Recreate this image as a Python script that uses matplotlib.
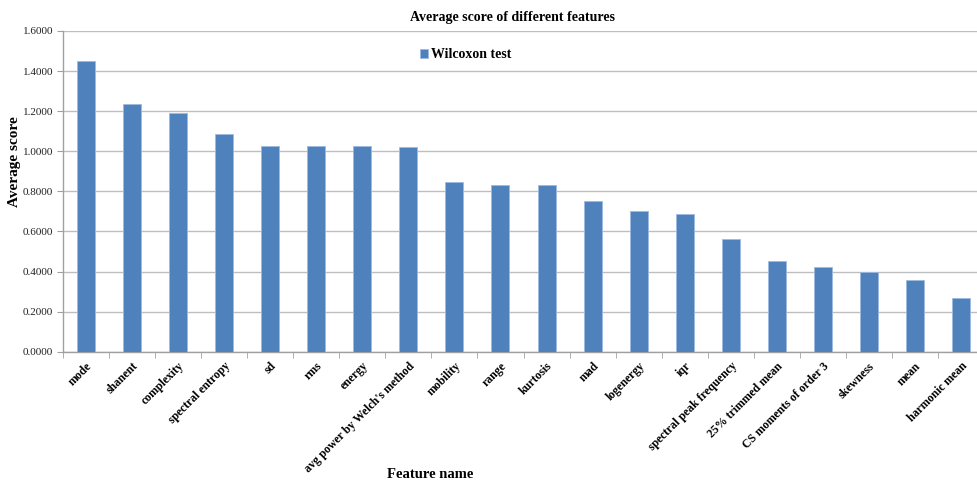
import matplotlib.pyplot as plt
import numpy as np

features = ["mode", "shanent", "complexity", "spectral entropy", "sd", "rms",
            "energy", "avg power by Welch's method", "mobility", "range",
            "kurtosis", "mad", "logenergy", "iqr", "spectral peak frequency",
            "25% trimmed mean", "CS moments of order 3", "skewness", "mean",
            "harmonic mean"]
scores = [1.450, 1.235, 1.190, 1.085, 1.025, 1.025, 1.025, 1.022, 0.845,
          0.832, 0.830, 0.752, 0.700, 0.688, 0.563, 0.455, 0.423, 0.397,
          0.360, 0.268]
yticks = [0.0, 0.2, 0.4, 0.6, 0.8, 1.0, 1.2, 1.4, 1.6]

plt.rcParams['font.family'] = ['Liberation Serif', 'DejaVu Serif']

W, H = 977, 480
fig = plt.figure(figsize=(W / 100, H / 100), dpi=100)
# plot area runs a little past the right edge of the figure
x0, x1, y0, y1 = 63, 984, 31, 351.7
ax = fig.add_axes([x0 / W, 1 - y1 / H, (x1 - x0) / W, (y1 - y0) / H])

x = np.arange(len(features))
ax.bar(x, scores, width=0.39, color='#4F81BD', edgecolor='#9DBBE0',
       linewidth=0.6, label='Wilcoxon test', zorder=3)

ax.set_xlim(-0.5, len(features) - 0.5)
ax.set_ylim(0, 1.6)
ax.set_yticks(yticks)
ax.set_yticklabels([f"{v:.4f}" for v in yticks], fontsize=8, color='#222222')
ax.yaxis.grid(True, color='#BEBEBE', linewidth=1.0, zorder=0)

ax.set_xticks(x)
ax.set_xticklabels(features, rotation=45, ha='right', rotation_mode='anchor',
                   fontsize=8.5, fontweight='bold')
ax.set_xticks(np.arange(len(features) + 1) - 0.5, minor=True)
ax.tick_params(axis='x', which='major', length=0, pad=6)
ax.tick_params(axis='x', which='minor', length=4, color='#A0A0A0', direction='out')
ax.tick_params(axis='y', length=4, color='#A0A0A0', pad=3)

for side in ['top', 'right']:
    ax.spines[side].set_visible(False)
for side in ['left', 'bottom']:
    ax.spines[side].set_color('#A0A0A0')
    ax.spines[side].set_linewidth(1.0)

fig.text(513 / W, 1 - 18 / H, 'Average score of different features',
         ha='center', va='center', fontsize=10, fontweight='bold')
fig.text(15 / W, 1 - 162 / H, 'Average score', rotation=90,
         ha='center', va='center', fontsize=11, fontweight='bold')
fig.text(430 / W, 1 - 474 / H, 'Feature name',
         ha='center', va='center', fontsize=10.5, fontweight='bold')

ax.legend(loc='center left', bbox_to_anchor=(407 / W, 1 - 55 / H),
          bbox_transform=fig.transFigure, frameon=False,
          handlelength=0.6, handleheight=0.6, handletextpad=0.25,
          prop={'size': 10, 'weight': 'bold'})

fig.savefig('out.png', dpi=100)
